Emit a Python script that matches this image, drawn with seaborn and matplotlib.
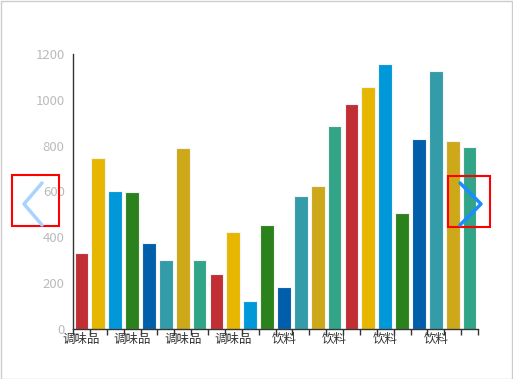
import matplotlib
matplotlib.use("Agg")
import matplotlib.pyplot as plt
from matplotlib.patches import Rectangle
from matplotlib.lines import Line2D
import seaborn as sns
import pandas as pd

# data
categories = ['调味品'] * 12 + ['饮料'] * 12
values = [330, 745, 603, 600, 374, 301, 790, 300, 239, 425, 122, 454,
          185, 580, 624, 884, 982, 1057, 1156, 506, 829, 1126, 820, 794]
palette = ['#c12e34', '#e6b600', '#0098d9', '#2b821d',
           '#005eaa', '#339ca8', '#cda819', '#32a487']
yticks = [0, 200, 400, 600, 800, 1000, 1200]
label_step = 3

sns.set_theme(style="white")
plt.rcParams['font.family'] = ['Noto Sans CJK SC', 'DejaVu Sans']

W, H = 513, 379
fig = plt.figure(figsize=(W / 100, H / 100), dpi=100)
ax = fig.add_axes([73 / W, 1 - 329 / H, (478 - 73) / W, (329 - 54) / H])

df = pd.DataFrame({'idx': range(len(values)), 'cat': categories, 'value': values})
colors = [palette[i % len(palette)] for i in range(len(values))]
sns.barplot(data=df, x='idx', y='value', hue='idx', palette=colors, legend=False,
            saturation=1, width=0.82, edgecolor='#f4f4f4', linewidth=0.8, ax=ax)

ax.set_xlim(-0.5, len(values) - 0.5)
ax.set_ylim(0, 1200)
ax.set_yticks(yticks)
ax.set_yticklabels([str(t) for t in yticks], color='#bbbbbb', fontsize=9.5)
ax.tick_params(axis='y', length=0, pad=6)

pos = list(range(0, len(values), label_step))
ax.set_xticks(pos)
ax.set_xticklabels([categories[p] for p in pos], color='#333333', fontsize=9)
ax.set_xticks([i - 0.5 for i in range(len(values) + 1)], minor=True)
ax.tick_params(axis='x', which='major', length=0, pad=3)
ax.tick_params(axis='x', which='minor', length=4, width=1, color='#333333', bottom=True)
ax.set_xlabel('')
ax.set_ylabel('')

for s in ['top', 'right']:
    ax.spines[s].set_visible(False)
for s in ['left', 'bottom']:
    ax.spines[s].set_color('#333333')
    ax.spines[s].set_linewidth(1)


def fp(x, y):
    return (x / W, 1 - y / H)


# navigation arrows and their boxes
fig.add_artist(Line2D(*zip(fp(42, 183), fp(24, 204), fp(42, 225)),
                      color='#a9d2ff', lw=2.5, transform=fig.transFigure))
fig.add_artist(Line2D(*zip(fp(460, 183), fp(481, 204), fp(460, 225)),
                      color='#1a8cff', lw=2.5, transform=fig.transFigure))
for (x0, y0, x1, y1) in [(12, 175, 59, 226), (448, 176, 490, 227)]:
    fig.add_artist(Rectangle(fp(x0, y1), (x1 - x0) / W, (y1 - y0) / H, fill=False,
                             edgecolor='#ff0000', lw=1.5, transform=fig.transFigure))
fig.add_artist(Rectangle((0.001, 0.001), 0.997, 0.997, fill=False, edgecolor='#cccccc',
                         lw=1, transform=fig.transFigure))

fig.savefig('out.png', dpi=100)
